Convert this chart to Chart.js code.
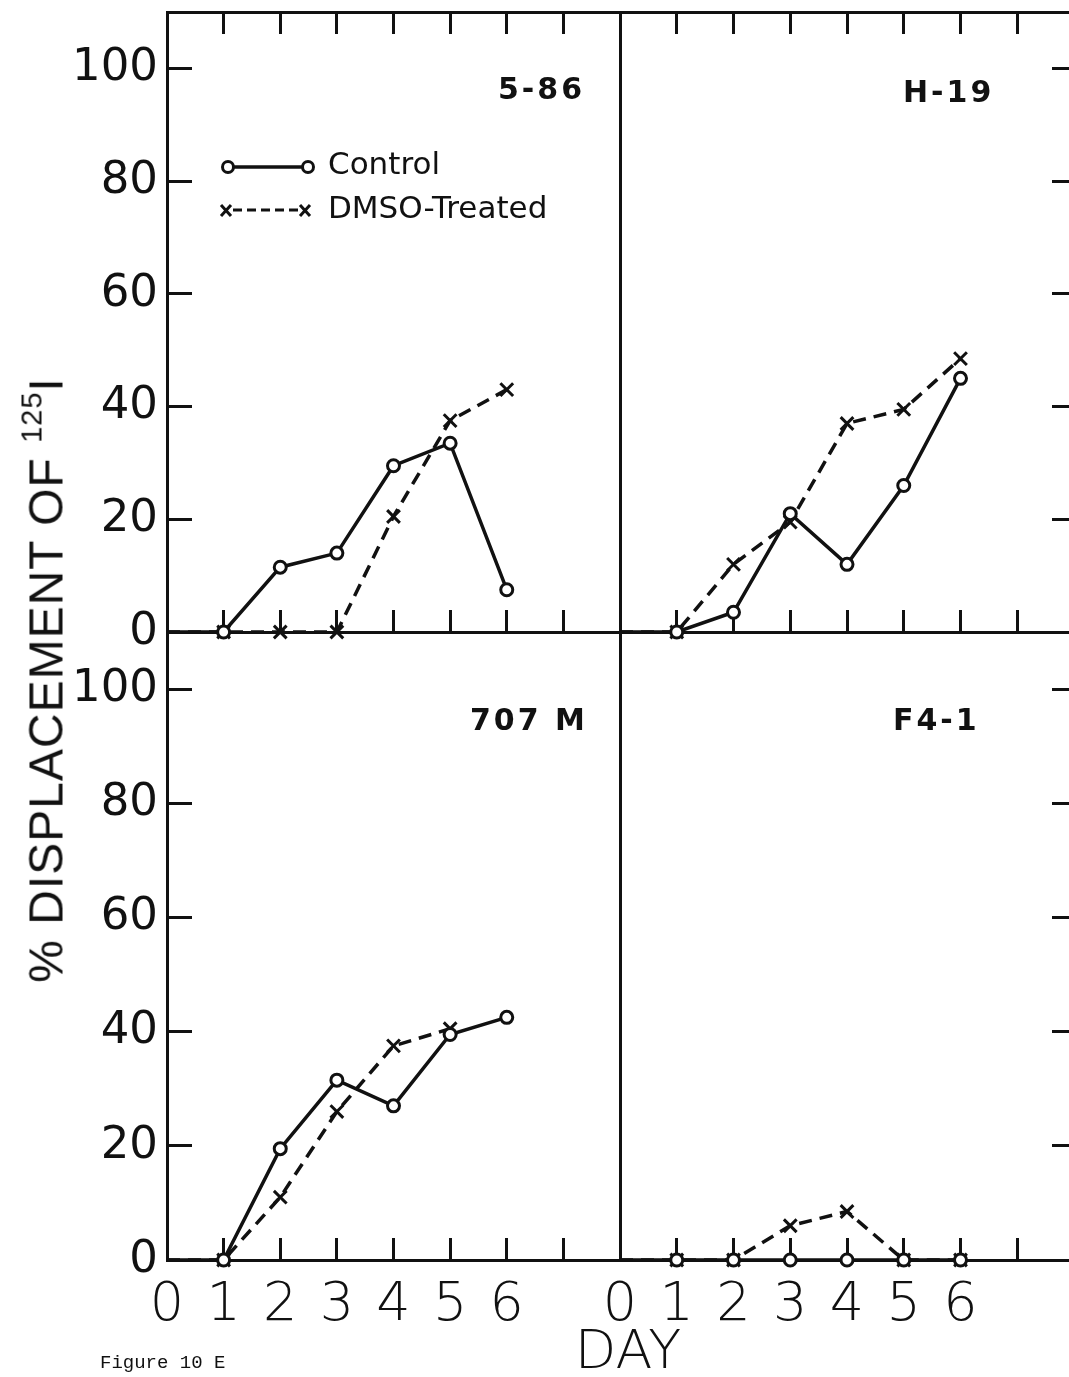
<!DOCTYPE html>
<html>
<head>
<meta charset="utf-8">
<script src="https://cdn.jsdelivr.net/npm/chart.js@4"></script>
<style>
  html, body { margin: 0; padding: 0; background: #fff; overflow: hidden; }
  #wrap { position: relative; width: 1069px; height: 1377px; overflow: hidden; background: #fff; }
  canvas { position: absolute; left: 0; top: 0; }
  .panel-name { position: absolute; font-family: 'DejaVu Sans', sans-serif; font-weight: bold; font-size: 30px; letter-spacing: 3px; color: #111; white-space: nowrap; line-height: 1; }
  #ytitle { position: absolute; left: 44px; top: 680px; transform: translate(-50%, -50%) rotate(-90deg); font-family: 'Liberation Sans', Arial, sans-serif; font-size: 48px; color: #111; white-space: nowrap; line-height: 1; letter-spacing: 1px; }
  #ytitle sup { font-size: 29px; vertical-align: 21px; }
  #daytitle { position: absolute; left: 628px; top: 1350px; transform: translate(-50%, -50%); font-family: 'DejaVu Sans', sans-serif; font-weight: 200; font-size: 54px; color: #111; line-height: 1; }
  #figcap { position: absolute; left: 100px; top: 1354px; font-family: 'Liberation Mono', monospace; font-size: 19px; color: #111; line-height: 1; }
</style>
</head>
<body>
<div id="wrap">
  <canvas id="c-586" width="1090" height="1377"></canvas>
  <canvas id="c-h19" width="1090" height="1377"></canvas>
  <canvas id="c-707" width="1090" height="1377"></canvas>
  <canvas id="c-f41" width="1090" height="1377"></canvas>

  <div class="panel-name" style="left:498px; top:74px;">5-86</div>
  <div class="panel-name" style="left:903px; top:77px;">H-19</div>
  <div class="panel-name" style="left:470px; top:705px;">707 M</div>
  <div class="panel-name" style="left:893px; top:705px;">F4-1</div>

  <div id="ytitle">% DISPLACEMENT OF <sup>125</sup>I</div>
  <div id="daytitle">DAY</div>
  <div id="figcap">Figure 10 E</div>
</div>

<script>
// data (% displacement per day)
const days = [0, 1, 2, 3, 4, 5, 6];
const xTickLabels = ['0', '1', '2', '3', '4', '5', '6'];

const control586 = [0, 0, 11.5, 14, 29.5, 33.5, 7.5];
const dmso586    = [0, 0, 0, 0, 20.5, 37.5, 43];

const controlH19 = [0, 0, 3.5, 21, 12, 26, 45];
const dmsoH19    = [0, 0, 12, 19.5, 37, 39.5, 48.5];

const control707 = [0, 0, 19.5, 31.5, 27, 39.5, 42.5];
const dmso707    = [0, 0, 11, 26, 37.5, 40.5, null];

const controlF41 = [0, 0, 0, 0, 0, 0, 0];
const dmsoF41    = [0, 0, 0, 6, 8.5, 0, 0];

const INK = '#111';
const W = 1090, H = 1377;

function toPoints(vals) {
  return days.map((d, i) => ({ x: d, y: vals[i] }));
}

// fixed box sizes, no extra label padding from chart.js
function fixBox(w, h) {
  return s => {
    if (w !== null) s.width = w;
    if (h !== null) s.height = h;
    s.paddingTop = 0; s.paddingBottom = 0;
    s.paddingLeft = 0; s.paddingRight = 0;
  };
}

// hand drawn style legend inside the 5-86 panel
const figLegend = {
  id: 'figLegend',
  afterDraw(chart) {
    const ctx = chart.ctx;
    ctx.save();
    ctx.strokeStyle = INK;
    ctx.fillStyle = INK;
    ctx.lineWidth = 3.5;
    // control: o----o
    ctx.beginPath();
    ctx.moveTo(234, 167); ctx.lineTo(302, 167);
    ctx.stroke();
    [228, 308].forEach(x => {
      ctx.beginPath();
      ctx.arc(x, 167, 5.5, 0, Math.PI * 2);
      ctx.fillStyle = '#fff'; ctx.fill();
      ctx.lineWidth = 3; ctx.stroke();
    });
    // dmso: x---x
    ctx.lineWidth = 3;
    ctx.setLineDash([9, 5]);
    ctx.beginPath();
    ctx.moveTo(233, 210); ctx.lineTo(298, 210);
    ctx.stroke();
    ctx.setLineDash([]);
    [226, 305].forEach(x => {
      ctx.beginPath();
      ctx.moveTo(x - 5, 205); ctx.lineTo(x + 5, 216);
      ctx.moveTo(x + 5, 205); ctx.lineTo(x - 5, 216);
      ctx.stroke();
    });
    ctx.fillStyle = INK;
    ctx.font = '31px "DejaVu Sans", sans-serif';
    ctx.textBaseline = 'middle';
    ctx.fillText('Control', 328, 166);
    ctx.fillText('DMSO-Treated', 328, 210);
    ctx.restore();
  }
};

function makePanel(id, ctrl, dmso, area, leftCol, topRow, extraPlugins) {
  const xAxisH = topRow ? 0 : 80;

  return new Chart(document.getElementById(id), {
    type: 'line',
    data: {
      datasets: [
        {
          label: 'Control',
          data: toPoints(ctrl),
          borderColor: INK,
          borderWidth: 3.5,
          pointStyle: 'circle',
          pointRadius: c => c.dataIndex === 0 ? 0 : 6,
          pointBorderWidth: 3,
          pointBorderColor: INK,
          pointBackgroundColor: '#fff',
          tension: 0,
          clip: false
        },
        {
          label: 'DMSO-Treated',
          data: toPoints(dmso),
          borderColor: INK,
          borderWidth: 3.5,
          borderDash: [13, 8],
          pointStyle: 'crossRot',
          pointRadius: c => c.dataIndex === 0 ? 0 : 9,
          pointBorderWidth: 3,
          pointBorderColor: INK,
          tension: 0,
          clip: false
        }
      ]
    },
    options: {
      responsive: false,
      animation: false,
      devicePixelRatio: 1,
      layout: {
        padding: {
          left: leftCol ? 0 : area.left,
          top: area.top,
          right: W - area.right,
          bottom: H - area.bottom - xAxisH
        }
      },
      plugins: {
        legend: { display: false },
        tooltip: { enabled: false }
      },
      scales: {
        x: {
          type: 'linear', position: 'bottom', min: 0, max: 8,
          afterFit: fixBox(null, xAxisH),
          border: { display: true, color: INK, width: 3 },
          grid: { drawOnChartArea: false, drawTicks: true, tickLength: -22, tickWidth: 3, color: INK },
          ticks: {
            display: !topRow, stepSize: 1, autoSkip: false, maxRotation: 0,
            padding: 36, color: INK,
            font: { family: "'DejaVu Sans', sans-serif", size: 54, weight: '200' },
            callback: v => xTickLabels[v] !== undefined ? xTickLabels[v] : ''
          }
        },
        x2: {
          type: 'linear', position: 'top', min: 0, max: 8, display: topRow,
          afterFit: fixBox(null, 0),
          border: { display: true, color: INK, width: 3 },
          grid: { drawOnChartArea: false, drawTicks: true, tickLength: -22, tickWidth: 3, color: INK },
          ticks: { display: false, stepSize: 1 }
        },
        y: {
          type: 'linear', position: 'left', min: 0, max: 110,
          afterFit: fixBox(leftCol ? area.left : 0, null),
          border: { display: true, color: INK, width: 3 },
          grid: { drawOnChartArea: false, drawTicks: leftCol, tickLength: -25, tickWidth: 3, color: INK },
          ticks: {
            display: leftCol, stepSize: 20, includeBounds: false,
            padding: 34, color: INK,
            font: { family: "'DejaVu Sans', sans-serif", size: 45 }
          }
        },
        y2: {
          type: 'linear', position: 'right', min: 0, max: 110, display: !leftCol,
          afterFit: fixBox(0, null),
          border: { display: true, color: INK, width: 3 },
          grid: { drawOnChartArea: false, drawTicks: true, tickLength: -22, tickWidth: 3, color: INK },
          ticks: { display: false, stepSize: 20, includeBounds: false }
        }
      }
    },
    plugins: extraPlugins || []
  });
}

makePanel('c-586', control586, dmso586, { left: 167, top: 8, right: 620, bottom: 632 }, true, true, [figLegend]);
makePanel('c-h19', controlH19, dmsoH19, { left: 620, top: 8, right: 1074, bottom: 632 }, false, true);
makePanel('c-707', control707, dmso707, { left: 167, top: 632, right: 620, bottom: 1260 }, true, false);
makePanel('c-f41', controlF41, dmsoF41, { left: 620, top: 632, right: 1074, bottom: 1260 }, false, false);
</script>
</body>
</html>
